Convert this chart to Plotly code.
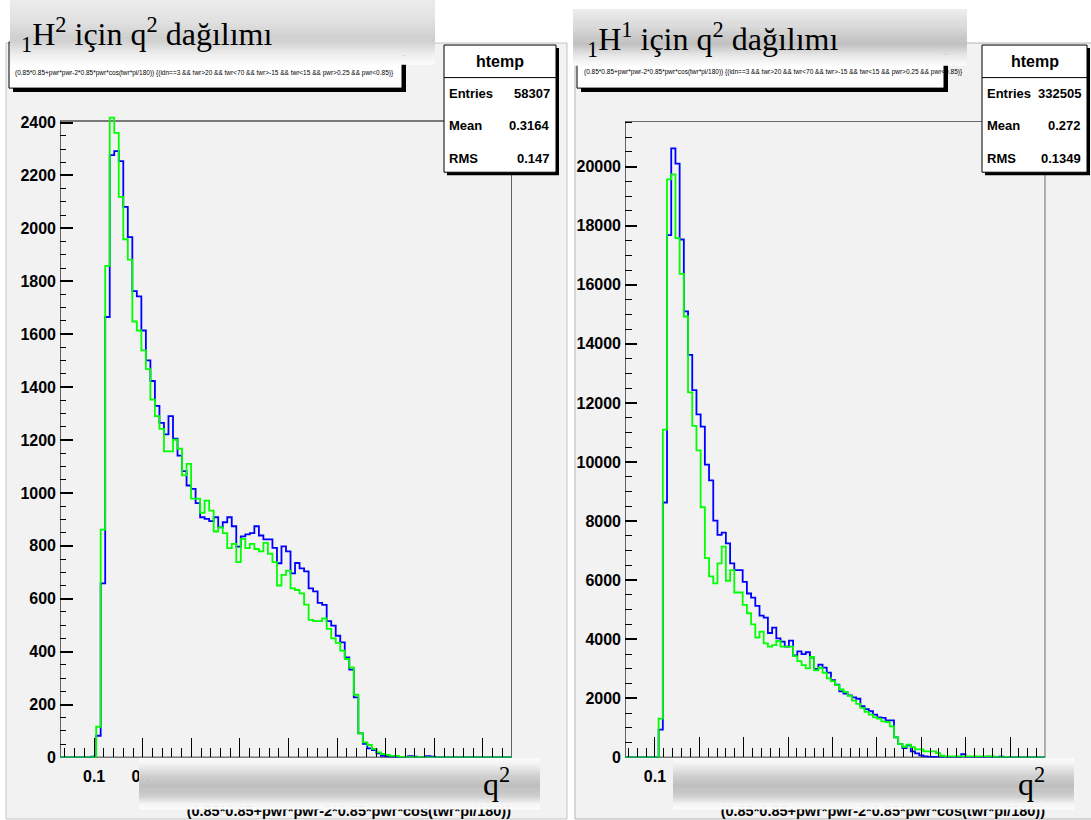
import plotly.graph_objects as go

# ---------------- data ----------------
N_BINS = 100
H2_XMIN, H2_XMAX = 0.0298, 0.9597      # deuterium panel x-range
H1_XMIN, H1_XMAX = 0.0326, 0.9795      # hydrogen panel x-range
H2_YMAX_FRAME = 2406
H1_YMAX_FRAME = 21540

h2_blue = [0, 0, 0, 0, 0, 0, 0, 3, 82, 658,
           1665, 2277, 2292, 2254, 2081, 1967, 1763, 1743, 1614, 1501,
           1423, 1329, 1265, 1221, 1290, 1205, 1141, 1082, 1028, 1015,
           961, 908, 902, 893, 908, 870, 889, 908, 874, 797,
           836, 843, 848, 874, 839, 824, 824, 792, 734, 798,
           779, 696, 735, 715, 703, 639, 628, 584, 577, 515,
           498, 460, 435, 378, 332, 227, 91, 51, 34, 28,
           15, 6, 4, 2, 1, 2, 1, 5, 3, 0,
           0, 5, 3, 0, 0, 0, 0, 0, 0, 0,
           0, 0, 0, 0, 0, 0, 0, 0, 0, 0]
h2_green = [0, 0, 0, 0, 0, 0, 0, 1, 116, 861,
            1858, 2419, 2361, 2119, 1959, 1882, 1648, 1614, 1539, 1468,
            1353, 1290, 1242, 1157, 1157, 1201, 1167, 1066, 1110, 978,
            978, 925, 971, 933, 854, 870, 848, 791, 807, 738,
            826, 791, 807, 788, 779, 811, 770, 738, 650, 690,
            706, 639, 633, 620, 578, 520, 515, 515, 526, 486,
            450, 433, 404, 372, 340, 237, 91, 57, 47, 32,
            19, 13, 10, 6, 6, 2, 1, 1, 1, 1,
            0, 0, 0, 0, 0, 0, 0, 0, 0, 0,
            0, 0, 0, 0, 0, 0, 0, 0, 0, 0]
h1_blue = [0, 0, 0, 0, 0, 0, 0, 0, 940, 8630,
           17680, 20615, 20105, 17533, 15097, 13626, 12436, 11611, 11200, 9912,
           9378, 8019, 7533, 7611, 7248, 6568, 6343, 6343, 5946, 5549,
           5413, 5131, 4802, 4734, 4213, 4394, 4033, 3918, 3748, 3952,
           3450, 3590, 3500, 3560, 3380, 3000, 3140, 3040, 2870, 2615,
           2460, 2237, 2163, 2100, 2033, 1987, 1738, 1637, 1563, 1450,
           1359, 1336, 1257, 1257, 680, 453, 317, 408, 204, 136,
           68, 34, 20, 15, 10, 10, 8, 5, 5, 5,
           110, 5, 5, 5, 5, 10, 30, 10, 10, 30,
           5, 0, 0, 0, 0, 0, 0, 0, 0, 0]
h1_green = [0, 0, 0, 0, 0, 0, 0, 0, 1315, 11100,
            19570, 19740, 17577, 16368, 14927, 12358, 11223, 10398, 8470, 6750,
            6127, 5890, 6568, 7136, 5981, 6343, 5584, 5584, 5165, 4881,
            4507, 4054, 4258, 3862, 3748, 3805, 3941, 3748, 3748, 3748,
            3432, 3262, 3126, 3013, 3400, 2945, 3036, 2866, 2674, 2583,
            2447, 2300, 2220, 2084, 1925, 1812, 1676, 1540, 1450, 1359,
            1314, 1223, 1200, 1053, 680, 453, 362, 431, 351, 272,
            272, 204, 204, 204, 147, 57, 34, 34, 34, 34,
            34, 34, 34, 34, 34, 34, 34, 34, 10, 10,
            10, 0, 0, 0, 0, 0, 0, 0, 0, 0]

# x tick labels: only those not hidden behind the overlay boxes carry text
X_TICKS = [0.1, 0.2, 0.3, 0.4, 0.5, 0.6, 0.7, 0.8, 0.9]
H2_XTICKTEXT = ["0.1", "0.2", "", "", "", "", "", "", ""]
H1_XTICKTEXT = ["0.1", "", "", "", "", "", "", "", ""]

H2_STATS = [("Entries", "58307"), ("Mean", "0.3164"), ("RMS", "0.147")]
H1_STATS = [("Entries", "332505"), ("Mean", "0.272"), ("RMS", "0.1349")]
STATS_NAME = "htemp"
TITLE_H2 = "<sub>1</sub>H<sup>2</sup> için q<sup>2</sup> dağılımı"
TITLE_H1 = "<sub>1</sub>H<sup>1</sup> için q<sup>2</sup> dağılımı"
XLABEL = "q<sup>2</sup>"
ROOT_XTITLE = "(0.85*0.85+pwr*pwr-2*0.85*pwr*cos(twr*pi/180))"
ROOT_TITLE = ("(0.85*0.85+pwr*pwr-2*0.85*pwr*cos(twr*pi/180)) {(idn==3 &amp;&amp; twr&gt;20 "
              "&amp;&amp; twr&lt;70 &amp;&amp; twr&gt;-15 &amp;&amp; twr&lt;15 &amp;&amp; "
              "pwr&gt;0.25 &amp;&amp; pwr&lt;0.85)}")

# ---------------- helpers ----------------
W, H = 1091, 820          # reference pixel space used for all positions
FIG_H = 830               # rendered height (the photograph maps it onto 820 px)
SANS = "Liberation Sans, Arial, sans-serif"
SERIF = "Liberation Serif, Times New Roman, DejaVu Serif, serif"
BLUE = "#0000ff"
GREEN = "#00ff00"


def px(x):
    return x / W


def py(y):
    return 1 - y / H


def edges(xmin, xmax, n):
    return [xmin + (xmax - xmin) * i / n for i in range(n + 1)]


def rect(x0, y0, x1, y1, fill, line=None, lw=0, layer="above"):
    return dict(type="rect", xref="paper", yref="paper", layer=layer,
                x0=px(x0), x1=px(x1), y0=py(y1), y1=py(y0),
                fillcolor=fill, line=dict(color=line or fill, width=lw))


def gradient(x0, y0, x1, y1, stops, n=36):
    out = []
    h = (y1 - y0) / n
    for i in range(n):
        t = (i + 0.5) / n
        for (ta, ca), (tb, cb) in zip(stops[:-1], stops[1:]):
            if ta <= t <= tb:
                c = ca + (cb - ca) * (t - ta) / (tb - ta)
                break
        c = int(round(c))
        col = f"rgb({c},{c},{c})"
        out.append(rect(x0, y0 + i * h, x1, y0 + (i + 1) * h + 0.6, col))
    return out


def ann(text, x, y, size, family=SANS, xanchor="left", yanchor="middle", bold=False):
    return dict(text=text, x=px(x), y=py(y), xref="paper", yref="paper",
                xanchor=xanchor, yanchor=yanchor, showarrow=False,
                font=dict(family=family, size=size, color="black",
                          weight="bold" if bold else "normal"))


fig = go.Figure()

# histograms (step outlines)
for vals, color, xa, ya, lo, hi in [
    (h2_blue, BLUE, "x", "y", H2_XMIN, H2_XMAX),
    (h2_green, GREEN, "x", "y", H2_XMIN, H2_XMAX),
    (h1_blue, BLUE, "x2", "y2", H1_XMIN, H1_XMAX),
    (h1_green, GREEN, "x2", "y2", H1_XMIN, H1_XMAX),
]:
    fig.add_trace(go.Scatter(x=edges(lo, hi, N_BINS), y=vals + [vals[-1]],
                             mode="lines", line=dict(color=color, width=1.8, shape="hv"),
                             xaxis=xa, yaxis=ya, hoverinfo="skip", showlegend=False))

# partially hidden ROOT x-axis titles (drawn under the overlay boxes)
fig.add_trace(go.Scatter(x=[511, 1045], y=[811.5, 811.5], mode="text",
                         text=[ROOT_XTITLE, ROOT_XTITLE], textposition="middle left",
                         textfont=dict(family=SANS, size=14.5, color="black", weight="bold"),
                         xaxis="x3", yaxis="y3", hoverinfo="skip", showlegend=False,
                         cliponaxis=False))

tickfont = dict(family=SANS, size=16, color="black", weight="bold")
xcommon = dict(showgrid=False, zeroline=False, showline=False, ticks="inside",
               tickcolor="black", tickwidth=1.4, tickmode="array", tickvals=X_TICKS,
               tickfont=tickfont, ticklabelstandoff=8,
               minor=dict(ticks="inside", dtick=0.02, tick0=0, ticklen=9,
                          tickcolor="black", tickwidth=1.2, showgrid=False))
ycommon = dict(showgrid=False, zeroline=False, showline=False, ticks="inside",
               tickcolor="black", tickwidth=1.6, tick0=0, tickfont=tickfont,
               tickformat="d", ticklabelstandoff=3)

fig.update_layout(
    width=W, height=FIG_H, margin=dict(l=0, r=0, t=0, b=0),
    paper_bgcolor="white", plot_bgcolor="rgba(0,0,0,0)", showlegend=False,
    xaxis=dict(domain=[px(60), px(512)], range=[H2_XMIN, H2_XMAX], anchor="y",
               ticklen=19, ticktext=H2_XTICKTEXT, **xcommon),
    yaxis=dict(domain=[py(756.5), py(114.5)], range=[0, 2430], anchor="x",
               dtick=200, ticklen=13,
               minor=dict(ticks="inside", dtick=50, tick0=0, ticklen=6,
                          tickcolor="black", tickwidth=1.3, showgrid=False),
               **ycommon),
    xaxis2=dict(domain=[px(625), px(1045.3)], range=[H1_XMIN, H1_XMAX], anchor="y2",
                ticklen=20, ticktext=H1_XTICKTEXT, **xcommon),
    yaxis2=dict(domain=[py(756.5), py(121)], range=[0, H1_YMAX_FRAME], anchor="x2",
                dtick=2000, ticklen=12,
                minor=dict(ticks="inside", dtick=500, tick0=0, ticklen=7,
                           tickcolor="black", tickwidth=1.3, showgrid=False),
                **ycommon),
    xaxis3=dict(domain=[0, 1], range=[0, W], visible=False, anchor="y3"),
    yaxis3=dict(domain=[0, 1], range=[H, 0], visible=False, anchor="x3"),
)

shapes = []
# pads
shapes.append(rect(6, 43, 567, 818, "#f2f2f2", "#c4c4c4", 1, layer="below"))
shapes.append(rect(575, 43, 1092, 818, "#f2f2f2", "#b4b4b4", 1, layer="below"))
# frames
shapes.append(dict(type="rect", xref="x", yref="y", layer="below",
                   x0=H2_XMIN, x1=H2_XMAX, y0=0, y1=H2_YMAX_FRAME,
                   line=dict(color="black", width=1.2), fillcolor="rgba(0,0,0,0)"))
shapes.append(dict(type="rect", xref="x2", yref="y2", layer="below",
                   x0=H1_XMIN, x1=H1_XMAX, y0=0, y1=H1_YMAX_FRAME,
                   line=dict(color="black", width=1.2), fillcolor="rgba(0,0,0,0)"))

# ROOT title paves (with shadow)
for (x0, x1) in [(9, 402), (577, 944)]:
    shapes.append(rect(x0 + 4, 46, x1 + 4, 92, "black"))
    shapes.append(rect(x0, 42, x1, 88, "white", "black", 1))

# stats boxes
for (x0, x1) in [(444, 556), (982, 1087)]:
    shapes.append(rect(x0 + 3, 48, x1 + 3, 175, "black"))
    shapes.append(rect(x0, 45, x1, 172, "white", "black", 1))
    shapes.append(dict(type="line", xref="paper", yref="paper", layer="above",
                       x0=px(x0), x1=px(x1), y0=py(77.5), y1=py(77.5),
                       line=dict(color="black", width=1)))

# gradient overlay boxes (title boxes)
shapes += gradient(10, 0, 435, 64,
                   [(0, 236), (0.3, 226), (0.62, 206), (0.84, 236), (1, 252)])
shapes += gradient(573, 9, 967, 65,
                   [(0, 238), (0.3, 218), (0.62, 192), (0.84, 232), (1, 252)])
# gradient overlay boxes (x-label boxes)
cyl = [(0, 253), (0.12, 242), (0.35, 208), (0.55, 190), (0.75, 206), (0.9, 244), (1, 253)]
shapes += gradient(139, 757, 540, 808, cyl)
shapes += gradient(673, 757, 1074, 808, cyl)

fig.update_layout(shapes=shapes)

anns = []
anns.append(ann(TITLE_H2, 19, 34, 32, family=SERIF))
anns.append(ann(TITLE_H1, 585, 39, 32, family=SERIF))
anns.append(ann(XLABEL, 512, 781, 32, family=SERIF, xanchor="right"))
anns.append(ann(XLABEL, 1047, 781, 32, family=SERIF, xanchor="right"))
anns.append(ann(ROOT_TITLE, 13, 73, 6.5))
anns.append(ann(ROOT_TITLE, 582, 72, 6.5))

for (x0, x1, stats) in [(444, 556, H2_STATS), (982, 1087, H1_STATS)]:
    anns.append(ann(STATS_NAME, (x0 + x1) / 2, 61.5, 16, xanchor="center", bold=True))
    for i, (k, v) in enumerate(stats):
        yy = 93.5 + i * 32.3
        anns.append(ann(k, x0 + 3, yy, 13, bold=True))
        anns.append(ann(v, x1 - 4, yy, 13, xanchor="right", bold=True))

fig.update_layout(annotations=anns)

fig.write_html("out.html",
               config={"displayModeBar": False},
               post_script="document.body.style.margin='0';"
                           "document.body.style.padding='0';"
                           "document.body.style.overflow='hidden';")
